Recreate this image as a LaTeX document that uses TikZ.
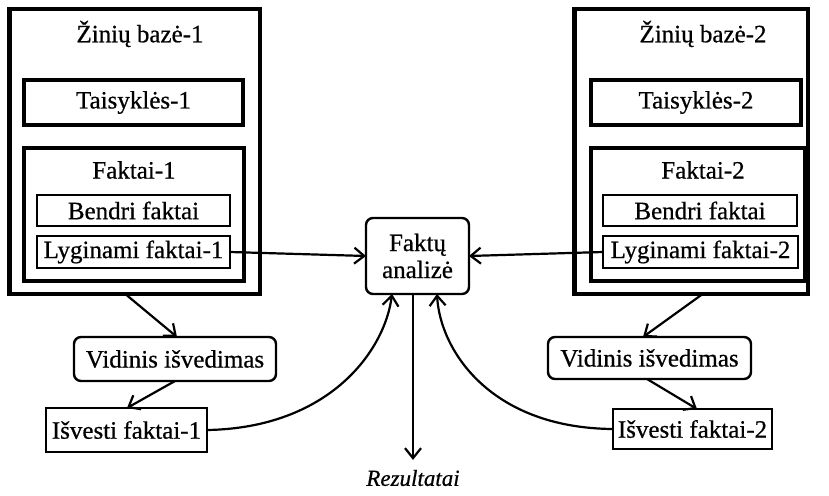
\documentclass[tikz,border=0pt]{standalone}
\usepackage{fontspec}
\setmainfont{Liberation Serif}[FakeBold=0.6]
\usetikzlibrary{arrows.meta}
\begin{document}
\begin{tikzpicture}[x=1pt,y=-1pt,
  every node/.style={inner sep=0pt,outer sep=0pt,font=\fontsize{25}{27}\selectfont},
  kb/.style={draw,line width=4.5pt,minimum width=#1,minimum height=284.5pt},
  thick box/.style={draw,line width=4pt},
  thin box/.style={draw,line width=2pt,minimum height=31pt},
  round box/.style={draw,line width=2.4pt,rounded corners=7pt},
  plain box/.style={draw,line width=2.2pt},
  conn/.style={line width=2.2pt,-{Straight Barb[length=10pt,width=16pt,line width=2.2pt]}}
]
\useasboundingbox (0,0) rectangle (829,495);

% Knowledge base 1
\node[kb=250.5pt] (b1) at (134.5,151.5) {};
\node (t1) at (140,34) {Žinių bazė-1};
\node[thick box,minimum width=219pt,minimum height=45pt] (r1) at (133.5,102.5) {Taisyklės-1};
\node[thick box,minimum width=220pt,minimum height=133pt] (f1) at (134,214.5) {};
\node (fl1) at (134,170) {Faktai-1};
\node[thin box,minimum width=193pt] (bf1) at (133.5,210.5) {Bendri faktai};
\node[thin box,minimum width=193pt,minimum height=32pt] (lf1) at (133.5,252) {Lyginami faktai-1};

% Knowledge base 2
\node[kb=233.5pt] (b2) at (691,151.5) {};
\node (t2) at (703,34) {Žinių bazė-2};
\node[thick box,minimum width=210pt,minimum height=45pt] (r2) at (696,102.5) {Taisyklės-2};
\node[thick box,minimum width=214pt,minimum height=133pt] (f2) at (698,214.5) {};
\node (fl2) at (703,170) {Faktai-2};
\node[thin box,minimum width=194pt] (bf2) at (700,210.5) {Bendri faktai};
\node[thin box,minimum width=195pt,minimum height=32pt] (lf2) at (700.5,252) {Lyginami faktai-2};

% Analysis
\node[round box,minimum width=103pt,minimum height=76pt,align=center] (fa) at (417.5,256) {Faktų\\analizė};

% Inference
\node[round box,minimum width=202pt,minimum height=44pt] (v1) at (175,359) {Vidinis išvedimas};
\node[plain box,minimum width=161pt,minimum height=44pt] (i1) at (126.5,430) {Išvesti faktai-1};
\node[round box,minimum width=203pt,minimum height=42pt] (v2) at (649.5,358) {Vidinis išvedimas};
\node[plain box,minimum width=159pt,minimum height=40pt] (i2) at (692.5,429) {Išvesti faktai-2};

\node[font=\fontsize{23}{26}\selectfont\itshape] (rez) at (413,478) {Rezultatai};

% connectors
\draw[conn] (lf1.east) -- (fa.west);
\draw[conn] (lf2.west) -- (fa.east);
\draw[conn] ([xshift=-9.5pt]b1.south) -- ([xshift=2pt]v1.north);
\draw[conn] (v1.south) -- ([xshift=0.5pt]i1.north);
\draw[conn] ([xshift=12pt]b2.south) -- ([xshift=-6.5pt]v2.north);
\draw[conn] ([xshift=-2.5pt]v2.south) -- ([xshift=4.5pt]i2.north);
\draw[conn] (i1.east) .. controls (330,428) and (385,350) .. ([xshift=-25.5pt]fa.south);
\draw[conn] (i2.west) .. controls (490,428) and (440,350) .. ([xshift=19.5pt]fa.south);
\draw[conn] ([xshift=-4.5pt]fa.south) -- ([yshift=10pt]rez.north);
\end{tikzpicture}
\end{document}
